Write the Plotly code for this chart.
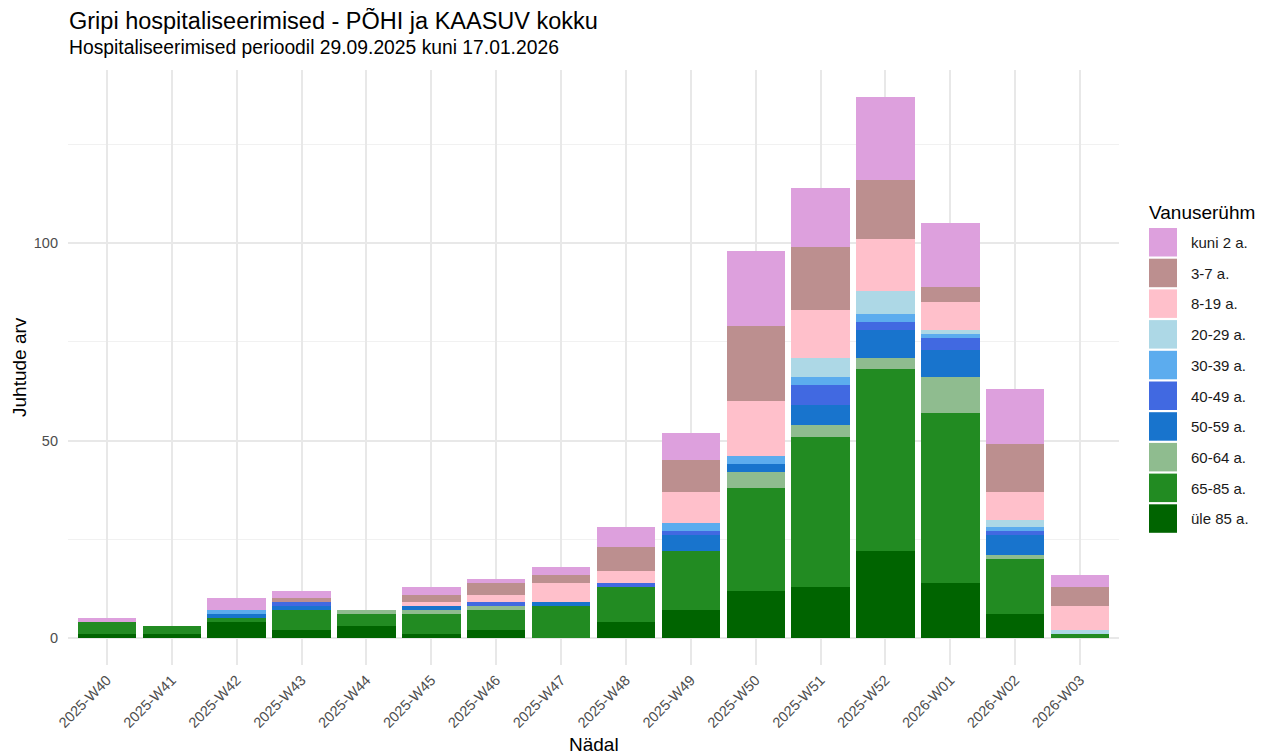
import plotly.graph_objects as go

weeks = [
    "2025-W40", "2025-W41", "2025-W42", "2025-W43", "2025-W44", "2025-W45",
    "2025-W46", "2025-W47", "2025-W48", "2025-W49", "2025-W50", "2025-W51",
    "2025-W52", "2026-W01", "2026-W02", "2026-W03",
]

# counts per age group, bottom of stack first
yle_85 = [1, 1, 4, 2, 3, 1, 2, 0, 4, 7, 12, 13, 22, 14, 6, 0]
a65_85 = [3, 2, 1, 5, 3, 5, 5, 8, 9, 15, 26, 38, 46, 43, 14, 1]
a60_64 = [0, 0, 0, 0, 1, 1, 1, 0, 0, 0, 4, 3, 3, 9, 1, 0]
a50_59 = [0, 0, 1, 1, 0, 1, 0, 1, 0, 4, 2, 5, 7, 7, 5, 0]
a40_49 = [0, 0, 0, 1, 0, 0, 1, 0, 1, 1, 0, 5, 2, 3, 1, 0]
a30_39 = [0, 0, 1, 0, 0, 0, 0, 0, 0, 2, 2, 2, 2, 1, 1, 0]
a20_29 = [0, 0, 0, 0, 0, 0, 0, 0, 0, 0, 0, 5, 6, 1, 2, 1]
a8_19 = [0, 0, 0, 0, 0, 1, 2, 5, 3, 8, 14, 12, 13, 7, 7, 6]
a3_7 = [0, 0, 0, 1, 0, 2, 3, 2, 6, 8, 19, 16, 15, 4, 12, 5]
kuni_2 = [1, 0, 3, 2, 0, 2, 1, 2, 5, 7, 19, 15, 21, 16, 14, 3]

groups = [
    ("üle 85 a.", yle_85, "#006400"),
    ("65-85 a.", a65_85, "#228B22"),
    ("60-64 a.", a60_64, "#8FBC8F"),
    ("50-59 a.", a50_59, "#1874CD"),
    ("40-49 a.", a40_49, "#4169E1"),
    ("30-39 a.", a30_39, "#5CACEE"),
    ("20-29 a.", a20_29, "#ADD8E6"),
    ("8-19 a.", a8_19, "#FFC0CB"),
    ("3-7 a.", a3_7, "#BC8F8F"),
    ("kuni 2 a.", kuni_2, "#DDA0DD"),
]

FONT = "Liberation Sans, Arial, sans-serif"
OFF = 8  # page body margin
W, H = 1269 - OFF, 756 - OFF
L, R, T, B = 60, 150, 62, 91
plot_h = H - T - B
plot_w = W - L - R


def py(y_ref):
    # reference screen pixel -> paper y
    return (H - B - (y_ref - OFF)) / plot_h


def px(x_ref):
    return (x_ref - OFF - L) / plot_w


def label(text, x, y, size, color="black", xanchor="left", angle=0):
    return dict(
        text=text, xref="paper", yref="paper", x=px(x), y=py(y),
        xanchor=xanchor, yanchor="middle", showarrow=False, textangle=angle,
        font=dict(size=size, color=color, family=FONT),
    )


fig = go.Figure()
for name, values, color in groups:
    fig.add_trace(
        go.Bar(
            x=weeks,
            y=values,
            name=name,
            marker_color=color,
            marker_line_width=0,
            showlegend=False,
        )
    )

# hand-built legend with large swatches (ggplot style)
shapes = []
annotations = []
for i, (name, _, color) in enumerate(reversed(groups)):
    top = 228 + i * 30.7
    shapes.append(
        dict(
            type="rect", xref="paper", yref="paper",
            x0=px(1149), x1=px(1177), y0=py(top), y1=py(top + 28.5),
            fillcolor=color, line_width=0,
        )
    )
    annotations.append(label(name, 1189, top + 14.5, 15, "#1a1a1a"))

annotations += [
    label("Vanuserühm", 1147, 212, 19),
    label("Gripi hospitaliseerimised - PÕHI ja KAASUV kokku", 67, 20, 23.5),
    label("Hospitaliseerimised perioodil 29.09.2025 kuni 17.01.2026", 67, 48, 19.3),
    label("Nädal", 594, 744, 19, xanchor="center"),
    label("Juhtude arv", 19, 367, 19, xanchor="center", angle=-90),
]

fig.update_layout(
    barmode="stack",
    bargap=0.1,
    width=W,
    height=H,
    margin=dict(l=L, r=R, t=T, b=B),
    plot_bgcolor="white",
    paper_bgcolor="white",
    font=dict(family=FONT, size=14.5, color="#4D4D4D"),
    shapes=shapes,
    annotations=annotations,
    showlegend=False,
)
fig.update_xaxes(
    range=[-0.6, 15.6],
    tickangle=-45,
    showgrid=True,
    gridcolor="#E8E8E8",
    gridwidth=1.6,
    ticks="",
    ticklabelstandoff=3,
    tickfont=dict(size=14.5, color="#4D4D4D"),
    zeroline=False,
    automargin=False,
)
fig.update_yaxes(
    range=[-6.85, 143.85],
    tickvals=[0, 50, 100],
    showgrid=True,
    gridcolor="#E8E8E8",
    gridwidth=1.6,
    minor=dict(tickvals=[25, 75, 125], showgrid=True, gridcolor="#F1F1F1", gridwidth=1.2),
    ticks="",
    ticklabelstandoff=9,
    tickfont=dict(size=14.5, color="#4D4D4D"),
    zeroline=False,
    automargin=False,
)

fig.write_html("out.html")
